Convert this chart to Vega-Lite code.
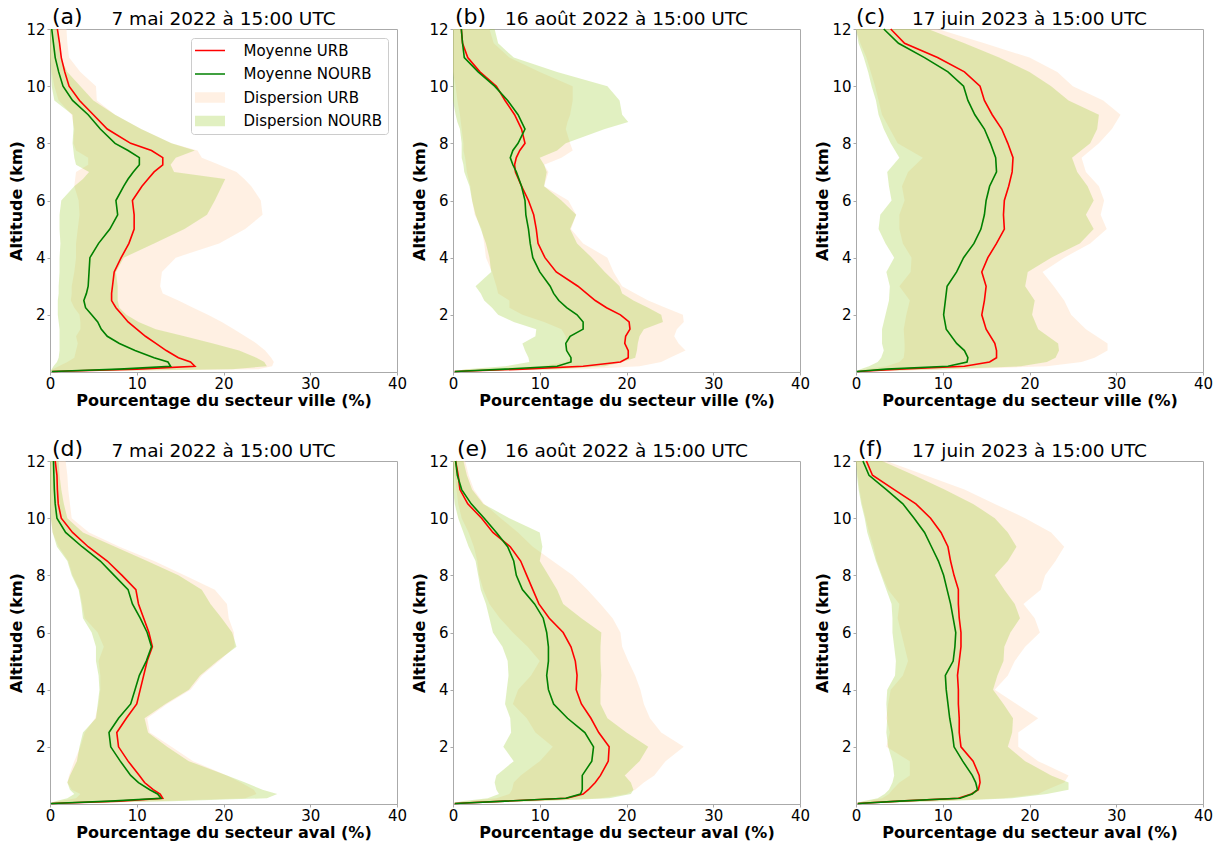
{
"$schema": "https://vega.github.io/schema/vega-lite/v6.json",
"background": "white",
"padding": {"left": 8, "top": 5, "right": 5, "bottom": 2},
"columns": 3,
"spacing": {"row": 28, "column": 3},
"resolve": {"scale": {"color": "independent"}, "legend": {"color": "independent"}},
"config": {
  "font": "DejaVu Sans",
  "view": {"stroke": "#aaaaaa", "strokeWidth": 1},
  "axis": {"grid": false, "domainColor": "#aaaaaa", "tickColor": "#aaaaaa", "tickSize": 3, "labelFont": "DejaVu Sans", "labelFontSize": 15, "labelColor": "#000000", "titleFont": "DejaVu Sans", "titleFontSize": 16, "titleFontWeight": "bold", "titleColor": "#000000", "labelFlush": false, "labelOverlap": false},
  "axisX": {"tickCount": 5, "labelPadding": 1, "titlePadding": 1},
  "axisY": {"labelPadding": 2, "titlePadding": 1}
},
"datasets": {
"labels": [
 {"p": "a", "tag": "(a)", "date": "7 mai 2022 à 15:00 UTC"},
 {"p": "b", "tag": "(b)", "date": "16 août 2022 à 15:00 UTC"},
 {"p": "c", "tag": "(c)", "date": "17 juin 2023 à 15:00 UTC"},
 {"p": "d", "tag": "(d)", "date": "7 mai 2022 à 15:00 UTC"},
 {"p": "e", "tag": "(e)", "date": "16 août 2022 à 15:00 UTC"},
 {"p": "f", "tag": "(f)", "date": "17 juin 2023 à 15:00 UTC"}
],
"prof": [
 {"p":"a","alt":0.02,"urb":0.3,"nourb":0.2,"ulo":0,"uhi":1.0,"nlo":0,"nhi":0.5},
 {"p":"a","alt":0.1,"urb":10.0,"nourb":8.0,"ulo":0.3,"uhi":24.0,"nlo":0.2,"nhi":21.0},
 {"p":"a","alt":0.2,"urb":16.7,"nourb":13.9,"ulo":1.0,"uhi":25.6,"nlo":0.4,"nhi":25.0},
 {"p":"a","alt":0.35,"urb":16.2,"nourb":13.6,"ulo":2.0,"uhi":25.8,"nlo":0.8,"nhi":24.7},
 {"p":"a","alt":0.5,"urb":14.8,"nourb":12.0,"ulo":2.8,"uhi":25.5,"nlo":1.0,"nhi":23.8},
 {"p":"a","alt":0.75,"urb":13.4,"nourb":9.8,"ulo":3.0,"uhi":24.8,"nlo":1.1,"nhi":21.8},
 {"p":"a","alt":1,"urb":12.2,"nourb":8.0,"ulo":3.2,"uhi":23.8,"nlo":1.1,"nhi":18.8},
 {"p":"a","alt":1.25,"urb":11.0,"nourb":6.6,"ulo":3.0,"uhi":22.5,"nlo":1.1,"nhi":15.5},
 {"p":"a","alt":1.5,"urb":10.0,"nourb":5.9,"ulo":3.5,"uhi":21.2,"nlo":1.1,"nhi":12.2},
 {"p":"a","alt":1.75,"urb":9.0,"nourb":5.5,"ulo":3.5,"uhi":19.8,"nlo":1.0,"nhi":10.2},
 {"p":"a","alt":2,"urb":8.3,"nourb":4.8,"ulo":3.4,"uhi":18.2,"nlo":0.9,"nhi":8.8},
 {"p":"a","alt":2.25,"urb":7.6,"nourb":4.1,"ulo":2.8,"uhi":16.5,"nlo":0.9,"nhi":8.0},
 {"p":"a","alt":2.5,"urb":7.1,"nourb":3.9,"ulo":2.4,"uhi":14.8,"nlo":0.9,"nhi":7.8},
 {"p":"a","alt":2.75,"urb":7.1,"nourb":4.2,"ulo":2.5,"uhi":13.0,"nlo":1.0,"nhi":7.8},
 {"p":"a","alt":3,"urb":7.2,"nourb":4.4,"ulo":2.5,"uhi":12.7,"nlo":1.0,"nhi":7.8},
 {"p":"a","alt":3.5,"urb":7.4,"nourb":4.5,"ulo":2.8,"uhi":12.9,"nlo":1.1,"nhi":7.6},
 {"p":"a","alt":4,"urb":8.2,"nourb":4.6,"ulo":3.0,"uhi":14.5,"nlo":1.1,"nhi":8.5},
 {"p":"a","alt":4.5,"urb":9.1,"nourb":5.6,"ulo":3.0,"uhi":19.5,"nlo":1.2,"nhi":12.0},
 {"p":"a","alt":5,"urb":9.7,"nourb":6.9,"ulo":3.2,"uhi":22.5,"nlo":1.1,"nhi":15.5},
 {"p":"a","alt":5.5,"urb":9.7,"nourb":7.8,"ulo":3.4,"uhi":24.5,"nlo":1.1,"nhi":18.1},
 {"p":"a","alt":6,"urb":9.5,"nourb":7.6,"ulo":3.3,"uhi":24.3,"nlo":1.3,"nhi":19.0},
 {"p":"a","alt":6.5,"urb":10.6,"nourb":8.5,"ulo":2.8,"uhi":23.2,"nlo":2.8,"nhi":19.8},
 {"p":"a","alt":6.75,"urb":11.3,"nourb":9.0,"ulo":2.9,"uhi":22.4,"nlo":3.8,"nhi":20.2},
 {"p":"a","alt":7,"urb":12.0,"nourb":9.6,"ulo":3.0,"uhi":21.5,"nlo":4.5,"nhi":14.3},
 {"p":"a","alt":7.25,"urb":13.0,"nourb":10.3,"ulo":4.4,"uhi":19.5,"nlo":3.0,"nhi":13.9},
 {"p":"a","alt":7.5,"urb":13.0,"nourb":10.3,"ulo":4.4,"uhi":17.5,"nlo":2.8,"nhi":14.5},
 {"p":"a","alt":7.75,"urb":11.7,"nourb":9.0,"ulo":3.0,"uhi":17.0,"nlo":2.7,"nhi":16.7},
 {"p":"a","alt":8,"urb":9.3,"nourb":7.5,"ulo":2.7,"uhi":14.0,"nlo":2.6,"nhi":14.0},
 {"p":"a","alt":8.5,"urb":6.6,"nourb":5.8,"ulo":2.8,"uhi":10.5,"nlo":2.7,"nhi":10.5},
 {"p":"a","alt":9,"urb":5.0,"nourb":4.4,"ulo":2.5,"uhi":7.5,"nlo":2.6,"nhi":7.5},
 {"p":"a","alt":9.5,"urb":3.4,"nourb":2.6,"ulo":1.0,"uhi":5.4,"nlo":0.5,"nhi":5.0},
 {"p":"a","alt":10,"urb":2.2,"nourb":1.5,"ulo":0.5,"uhi":5.3,"nlo":0.2,"nhi":3.5},
 {"p":"a","alt":10.5,"urb":1.7,"nourb":1.0,"ulo":0.2,"uhi":3.5,"nlo":0.1,"nhi":2.0},
 {"p":"a","alt":11,"urb":1.3,"nourb":0.6,"ulo":0,"uhi":2.2,"nlo":0,"nhi":1.2},
 {"p":"a","alt":11.5,"urb":1.1,"nourb":0.4,"ulo":0,"uhi":2.0,"nlo":0,"nhi":1.0},
 {"p":"a","alt":12,"urb":0.85,"nourb":0.2,"ulo":0,"uhi":1.9,"nlo":0,"nhi":0.8},

 {"p":"b","alt":0.02,"urb":0.2,"nourb":0.2,"ulo":0,"uhi":0.5,"nlo":0,"nhi":0.3},
 {"p":"b","alt":0.1,"urb":8.0,"nourb":6.0,"ulo":1.5,"uhi":15.0,"nlo":1.5,"nhi":12.0},
 {"p":"b","alt":0.2,"urb":15.0,"nourb":12.0,"ulo":10.0,"uhi":21.5,"nlo":6.0,"nhi":17.5},
 {"p":"b","alt":0.35,"urb":19.3,"nourb":13.6,"ulo":13.0,"uhi":24.0,"nlo":8.8,"nhi":19.5},
 {"p":"b","alt":0.5,"urb":20.2,"nourb":13.6,"ulo":13.5,"uhi":25.0,"nlo":8.7,"nhi":21.0},
 {"p":"b","alt":0.75,"urb":20.2,"nourb":13.1,"ulo":13.0,"uhi":26.8,"nlo":8.3,"nhi":21.2},
 {"p":"b","alt":1,"urb":19.8,"nourb":13.0,"ulo":13.0,"uhi":26.0,"nlo":8.0,"nhi":21.3},
 {"p":"b","alt":1.25,"urb":19.9,"nourb":13.5,"ulo":13.0,"uhi":25.5,"nlo":9.5,"nhi":21.5},
 {"p":"b","alt":1.5,"urb":20.4,"nourb":15.0,"ulo":12.5,"uhi":25.8,"nlo":9.6,"nhi":22.0},
 {"p":"b","alt":1.75,"urb":20.3,"nourb":15.0,"ulo":10.5,"uhi":26.6,"nlo":7.0,"nhi":24.2},
 {"p":"b","alt":2,"urb":19.3,"nourb":14.3,"ulo":8.0,"uhi":26.5,"nlo":5.2,"nhi":24.0},
 {"p":"b","alt":2.25,"urb":17.7,"nourb":13.1,"ulo":6.5,"uhi":24.5,"nlo":4.5,"nhi":22.5},
 {"p":"b","alt":2.5,"urb":16.4,"nourb":12.2,"ulo":6.5,"uhi":22.5,"nlo":3.6,"nhi":20.8},
 {"p":"b","alt":2.75,"urb":15.4,"nourb":11.6,"ulo":5.2,"uhi":21.0,"nlo":3.2,"nhi":19.5},
 {"p":"b","alt":3,"urb":14.4,"nourb":11.2,"ulo":5.0,"uhi":19.5,"nlo":2.6,"nhi":19.2},
 {"p":"b","alt":3.5,"urb":11.9,"nourb":10.0,"ulo":4.5,"uhi":18.5,"nlo":4.4,"nhi":17.5},
 {"p":"b","alt":4,"urb":10.6,"nourb":9.2,"ulo":3.8,"uhi":17.8,"nlo":4.2,"nhi":16.0},
 {"p":"b","alt":4.5,"urb":9.8,"nourb":8.9,"ulo":3.6,"uhi":15.0,"nlo":3.8,"nhi":14.3},
 {"p":"b","alt":5,"urb":9.6,"nourb":8.7,"ulo":3.3,"uhi":13.6,"nlo":3.2,"nhi":13.5},
 {"p":"b","alt":5.5,"urb":9.3,"nourb":8.4,"ulo":2.5,"uhi":14.2,"nlo":2.6,"nhi":14.2},
 {"p":"b","alt":6,"urb":8.7,"nourb":8.3,"ulo":2.2,"uhi":13.3,"nlo":2.2,"nhi":12.5},
 {"p":"b","alt":6.5,"urb":7.9,"nourb":7.9,"ulo":2.0,"uhi":10.5,"nlo":1.9,"nhi":10.5},
 {"p":"b","alt":7,"urb":7.2,"nourb":7.3,"ulo":1.6,"uhi":11.0,"nlo":1.3,"nhi":10.8},
 {"p":"b","alt":7.25,"urb":7.1,"nourb":6.9,"ulo":1.5,"uhi":10.5,"nlo":1.2,"nhi":10.5},
 {"p":"b","alt":7.5,"urb":7.3,"nourb":6.6,"ulo":1.4,"uhi":12.5,"nlo":1.0,"nhi":10.0},
 {"p":"b","alt":7.75,"urb":7.7,"nourb":6.9,"ulo":1.2,"uhi":13.8,"nlo":1.0,"nhi":12.0},
 {"p":"b","alt":8,"urb":8.3,"nourb":7.5,"ulo":1.2,"uhi":13.5,"nlo":1.0,"nhi":13.0},
 {"p":"b","alt":8.5,"urb":7.9,"nourb":8.3,"ulo":1.0,"uhi":13.0,"nlo":0.8,"nhi":17.5},
 {"p":"b","alt":8.75,"urb":7.5,"nourb":7.9,"ulo":0.9,"uhi":13.2,"nlo":0.5,"nhi":20.2},
 {"p":"b","alt":9,"urb":7.1,"nourb":7.5,"ulo":0.8,"uhi":13.5,"nlo":0.3,"nhi":19.5},
 {"p":"b","alt":9.5,"urb":6.0,"nourb":6.3,"ulo":0.5,"uhi":13.8,"nlo":0,"nhi":19.2},
 {"p":"b","alt":10,"urb":5.0,"nourb":4.8,"ulo":0.3,"uhi":13.8,"nlo":0,"nhi":17.8},
 {"p":"b","alt":10.5,"urb":3.1,"nourb":2.9,"ulo":0,"uhi":10.0,"nlo":0,"nhi":12.0},
 {"p":"b","alt":11,"urb":1.7,"nourb":1.3,"ulo":0,"uhi":6.5,"nlo":0,"nhi":7.0},
 {"p":"b","alt":11.5,"urb":1.1,"nourb":1.1,"ulo":0,"uhi":4.7,"nlo":0,"nhi":5.2},
 {"p":"b","alt":12,"urb":0.96,"nourb":0.96,"ulo":0,"uhi":4.2,"nlo":0,"nhi":4.8},

 {"p":"c","alt":0.02,"urb":0.2,"nourb":0.1,"ulo":0,"uhi":0.5,"nlo":0,"nhi":0.3},
 {"p":"c","alt":0.1,"urb":5.0,"nourb":3.5,"ulo":1.0,"uhi":12.0,"nlo":0.5,"nhi":10.0},
 {"p":"c","alt":0.2,"urb":12.5,"nourb":10.6,"ulo":3.5,"uhi":22.0,"nlo":1.5,"nhi":19.0},
 {"p":"c","alt":0.35,"urb":15.4,"nourb":12.8,"ulo":5.0,"uhi":26.0,"nlo":2.5,"nhi":22.0},
 {"p":"c","alt":0.5,"urb":16.2,"nourb":12.9,"ulo":5.5,"uhi":27.5,"nlo":2.9,"nhi":23.0},
 {"p":"c","alt":0.75,"urb":16.2,"nourb":12.5,"ulo":5.6,"uhi":29.0,"nlo":3.2,"nhi":23.4},
 {"p":"c","alt":1,"urb":16.0,"nourb":11.6,"ulo":5.6,"uhi":29.0,"nlo":3.0,"nhi":23.3},
 {"p":"c","alt":1.5,"urb":15.0,"nourb":10.4,"ulo":5.5,"uhi":26.5,"nlo":3.0,"nhi":21.0},
 {"p":"c","alt":2,"urb":14.5,"nourb":10.1,"ulo":5.8,"uhi":24.8,"nlo":3.4,"nhi":20.3},
 {"p":"c","alt":2.5,"urb":14.8,"nourb":10.3,"ulo":6.2,"uhi":24.0,"nlo":3.8,"nhi":20.6},
 {"p":"c","alt":3,"urb":15.0,"nourb":10.5,"ulo":5.0,"uhi":22.8,"nlo":3.9,"nhi":19.5},
 {"p":"c","alt":3.5,"urb":14.5,"nourb":11.6,"ulo":6.3,"uhi":21.5,"nlo":3.5,"nhi":19.8},
 {"p":"c","alt":4,"urb":15.2,"nourb":12.4,"ulo":6.4,"uhi":24.0,"nlo":4.4,"nhi":22.5},
 {"p":"c","alt":4.5,"urb":16.2,"nourb":13.6,"ulo":5.4,"uhi":27.0,"nlo":3.4,"nhi":25.8},
 {"p":"c","alt":5,"urb":17.1,"nourb":14.4,"ulo":5.0,"uhi":28.9,"nlo":2.6,"nhi":27.4},
 {"p":"c","alt":5.5,"urb":17.0,"nourb":14.8,"ulo":5.0,"uhi":28.2,"nlo":2.8,"nhi":26.5},
 {"p":"c","alt":6,"urb":17.1,"nourb":15.0,"ulo":5.6,"uhi":28.6,"nlo":4.1,"nhi":27.4},
 {"p":"c","alt":6.5,"urb":17.6,"nourb":15.4,"ulo":5.3,"uhi":28.0,"nlo":3.8,"nhi":26.7},
 {"p":"c","alt":7,"urb":18.0,"nourb":16.2,"ulo":6.0,"uhi":26.5,"nlo":3.6,"nhi":25.5},
 {"p":"c","alt":7.5,"urb":18.1,"nourb":16.1,"ulo":7.7,"uhi":26.0,"nlo":5.0,"nhi":24.9},
 {"p":"c","alt":8,"urb":17.5,"nourb":15.5,"ulo":4.8,"uhi":28.0,"nlo":4.0,"nhi":27.0},
 {"p":"c","alt":8.5,"urb":16.8,"nourb":14.8,"ulo":3.9,"uhi":29.5,"nlo":3.2,"nhi":27.8},
 {"p":"c","alt":9,"urb":15.7,"nourb":13.7,"ulo":3.0,"uhi":30.5,"nlo":2.6,"nhi":28.0},
 {"p":"c","alt":9.5,"urb":14.8,"nourb":12.9,"ulo":2.6,"uhi":28.5,"nlo":2.3,"nhi":24.5},
 {"p":"c","alt":10,"urb":14.3,"nourb":12.4,"ulo":2.2,"uhi":25.0,"nlo":1.8,"nhi":22.5},
 {"p":"c","alt":10.5,"urb":12.5,"nourb":10.6,"ulo":1.7,"uhi":23.2,"nlo":1.4,"nhi":20.0},
 {"p":"c","alt":11,"urb":9.4,"nourb":7.9,"ulo":1.2,"uhi":20.0,"nlo":0.9,"nhi":16.5},
 {"p":"c","alt":11.5,"urb":5.6,"nourb":4.9,"ulo":0.5,"uhi":14.8,"nlo":0.3,"nhi":12.5},
 {"p":"c","alt":12,"urb":4.0,"nourb":3.2,"ulo":0,"uhi":9.4,"nlo":0,"nhi":8.3},

 {"p":"d","alt":0.02,"urb":0.2,"nourb":0.1,"ulo":0,"uhi":0.5,"nlo":0,"nhi":0.5},
 {"p":"d","alt":0.1,"urb":8.0,"nourb":7.0,"ulo":1.0,"uhi":12.0,"nlo":0.6,"nhi":14.0},
 {"p":"d","alt":0.2,"urb":13.0,"nourb":12.8,"ulo":3.0,"uhi":22.5,"nlo":2.0,"nhi":25.0},
 {"p":"d","alt":0.35,"urb":12.7,"nourb":12.4,"ulo":3.5,"uhi":23.8,"nlo":2.8,"nhi":26.2},
 {"p":"d","alt":0.5,"urb":11.9,"nourb":11.5,"ulo":2.5,"uhi":23.5,"nlo":2.3,"nhi":24.5},
 {"p":"d","alt":0.75,"urb":10.9,"nourb":10.2,"ulo":2.0,"uhi":22.0,"nlo":2.0,"nhi":22.5},
 {"p":"d","alt":1,"urb":10.3,"nourb":9.3,"ulo":2.2,"uhi":20.4,"nlo":2.3,"nhi":20.4},
 {"p":"d","alt":1.5,"urb":9.0,"nourb":8.1,"ulo":2.8,"uhi":16.5,"nlo":3.1,"nhi":16.0},
 {"p":"d","alt":2,"urb":7.9,"nourb":7.0,"ulo":3.5,"uhi":14.0,"nlo":3.4,"nhi":13.5},
 {"p":"d","alt":2.5,"urb":7.7,"nourb":6.8,"ulo":4.0,"uhi":11.5,"nlo":3.8,"nhi":11.3},
 {"p":"d","alt":3,"urb":8.8,"nourb":7.9,"ulo":5.2,"uhi":11.2,"nlo":5.3,"nhi":10.9},
 {"p":"d","alt":3.5,"urb":10.0,"nourb":9.3,"ulo":5.6,"uhi":13.5,"nlo":5.5,"nhi":13.3},
 {"p":"d","alt":4,"urb":10.4,"nourb":9.8,"ulo":5.8,"uhi":16.2,"nlo":5.7,"nhi":16.0},
 {"p":"d","alt":4.5,"urb":10.8,"nourb":10.3,"ulo":5.8,"uhi":17.5,"nlo":5.6,"nhi":17.3},
 {"p":"d","alt":5,"urb":11.2,"nourb":11.1,"ulo":5.6,"uhi":19.5,"nlo":5.3,"nhi":19.3},
 {"p":"d","alt":5.5,"urb":11.8,"nourb":11.7,"ulo":6.2,"uhi":21.3,"nlo":5.3,"nhi":21.5},
 {"p":"d","alt":6,"urb":11.4,"nourb":11.2,"ulo":5.5,"uhi":21.2,"nlo":4.8,"nhi":21.0},
 {"p":"d","alt":6.5,"urb":10.8,"nourb":10.4,"ulo":4.0,"uhi":20.6,"nlo":3.8,"nhi":19.8},
 {"p":"d","alt":7,"urb":10.2,"nourb":9.5,"ulo":3.7,"uhi":20.4,"nlo":3.6,"nhi":18.5},
 {"p":"d","alt":7.5,"urb":9.9,"nourb":9.0,"ulo":3.4,"uhi":19.0,"nlo":3.3,"nhi":17.5},
 {"p":"d","alt":8,"urb":8.3,"nourb":7.4,"ulo":2.6,"uhi":15.5,"nlo":2.5,"nhi":14.8},
 {"p":"d","alt":8.5,"urb":6.6,"nourb":5.8,"ulo":2.1,"uhi":12.0,"nlo":2.0,"nhi":11.2},
 {"p":"d","alt":9,"urb":4.4,"nourb":3.7,"ulo":1.0,"uhi":8.0,"nlo":0.8,"nhi":7.5},
 {"p":"d","alt":9.5,"urb":2.6,"nourb":1.8,"ulo":0.3,"uhi":4.5,"nlo":0.3,"nhi":3.8},
 {"p":"d","alt":10,"urb":1.3,"nourb":0.8,"ulo":0.1,"uhi":2.5,"nlo":0.1,"nhi":2.0},
 {"p":"d","alt":10.5,"urb":0.95,"nourb":0.6,"ulo":0,"uhi":2.3,"nlo":0,"nhi":1.6},
 {"p":"d","alt":11,"urb":0.85,"nourb":0.5,"ulo":0,"uhi":2.1,"nlo":0,"nhi":1.3},
 {"p":"d","alt":11.5,"urb":0.8,"nourb":0.45,"ulo":0,"uhi":2.0,"nlo":0,"nhi":1.1},
 {"p":"d","alt":12,"urb":0.6,"nourb":0.4,"ulo":0,"uhi":1.8,"nlo":0,"nhi":1.0},

 {"p":"e","alt":0.02,"urb":0.2,"nourb":0.2,"ulo":0,"uhi":0.4,"nlo":0,"nhi":0.4},
 {"p":"e","alt":0.1,"urb":6.0,"nourb":6.0,"ulo":1.5,"uhi":9.0,"nlo":1.0,"nhi":10.0},
 {"p":"e","alt":0.2,"urb":13.1,"nourb":13.0,"ulo":5.0,"uhi":17.0,"nlo":4.0,"nhi":18.0},
 {"p":"e","alt":0.35,"urb":15.0,"nourb":14.7,"ulo":6.5,"uhi":20.0,"nlo":5.3,"nhi":20.5},
 {"p":"e","alt":0.5,"urb":15.6,"nourb":14.9,"ulo":6.8,"uhi":21.0,"nlo":5.0,"nhi":20.8},
 {"p":"e","alt":0.75,"urb":16.4,"nourb":14.9,"ulo":7.0,"uhi":22.0,"nlo":4.8,"nhi":20.5},
 {"p":"e","alt":1,"urb":17.0,"nourb":14.9,"ulo":7.8,"uhi":23.2,"nlo":5.0,"nhi":19.8},
 {"p":"e","alt":1.5,"urb":17.9,"nourb":16.0,"ulo":10.0,"uhi":24.5,"nlo":7.0,"nhi":21.5},
 {"p":"e","alt":2,"urb":18.0,"nourb":16.2,"ulo":11.5,"uhi":26.6,"nlo":5.8,"nhi":22.5},
 {"p":"e","alt":2.5,"urb":16.8,"nourb":15.2,"ulo":9.5,"uhi":24.0,"nlo":6.7,"nhi":20.0},
 {"p":"e","alt":3,"urb":15.9,"nourb":13.2,"ulo":8.5,"uhi":22.7,"nlo":6.6,"nhi":17.8},
 {"p":"e","alt":3.5,"urb":14.8,"nourb":11.6,"ulo":6.9,"uhi":22.0,"nlo":6.0,"nhi":17.0},
 {"p":"e","alt":4,"urb":14.2,"nourb":11.0,"ulo":7.5,"uhi":21.6,"nlo":6.2,"nhi":17.0},
 {"p":"e","alt":4.5,"urb":14.3,"nourb":10.8,"ulo":9.0,"uhi":21.0,"nlo":6.4,"nhi":17.1},
 {"p":"e","alt":5,"urb":14.1,"nourb":11.0,"ulo":10.0,"uhi":20.2,"nlo":6.3,"nhi":17.0},
 {"p":"e","alt":5.5,"urb":13.6,"nourb":11.0,"ulo":8.6,"uhi":19.5,"nlo":5.7,"nhi":17.0},
 {"p":"e","alt":6,"urb":12.7,"nourb":10.8,"ulo":6.9,"uhi":19.3,"nlo":4.6,"nhi":17.1},
 {"p":"e","alt":6.5,"urb":11.1,"nourb":10.4,"ulo":5.4,"uhi":18.4,"nlo":4.2,"nhi":14.8},
 {"p":"e","alt":7,"urb":9.9,"nourb":9.4,"ulo":4.2,"uhi":17.0,"nlo":3.8,"nhi":12.7},
 {"p":"e","alt":7.5,"urb":9.2,"nourb":8.0,"ulo":3.5,"uhi":15.5,"nlo":3.2,"nhi":12.0},
 {"p":"e","alt":8,"urb":8.5,"nourb":7.3,"ulo":3.0,"uhi":13.8,"nlo":2.9,"nhi":11.0},
 {"p":"e","alt":8.5,"urb":7.8,"nourb":7.0,"ulo":2.8,"uhi":11.5,"nlo":2.6,"nhi":10.0},
 {"p":"e","alt":9,"urb":6.6,"nourb":6.3,"ulo":2.4,"uhi":9.2,"nlo":1.8,"nhi":10.3},
 {"p":"e","alt":9.5,"urb":4.6,"nourb":5.0,"ulo":1.8,"uhi":7.5,"nlo":1.2,"nhi":10.0},
 {"p":"e","alt":10,"urb":3.3,"nourb":3.6,"ulo":1.0,"uhi":5.5,"nlo":0.6,"nhi":6.5},
 {"p":"e","alt":10.5,"urb":1.7,"nourb":2.1,"ulo":0.6,"uhi":3.6,"nlo":0.2,"nhi":3.5},
 {"p":"e","alt":11,"urb":0.8,"nourb":1.0,"ulo":0.4,"uhi":2.4,"nlo":0,"nhi":2.2},
 {"p":"e","alt":11.5,"urb":0.6,"nourb":0.5,"ulo":0.2,"uhi":1.8,"nlo":0,"nhi":1.6},
 {"p":"e","alt":12,"urb":0.3,"nourb":0.3,"ulo":0,"uhi":1.4,"nlo":0,"nhi":1.2},

 {"p":"f","alt":0.02,"urb":0.2,"nourb":0.2,"ulo":0,"uhi":0.4,"nlo":0,"nhi":0.4},
 {"p":"f","alt":0.1,"urb":5.0,"nourb":5.0,"ulo":1.0,"uhi":9.0,"nlo":0.8,"nhi":10.0},
 {"p":"f","alt":0.2,"urb":11.8,"nourb":12.0,"ulo":3.0,"uhi":17.0,"nlo":2.5,"nhi":18.0},
 {"p":"f","alt":0.35,"urb":13.3,"nourb":13.4,"ulo":3.8,"uhi":21.0,"nlo":3.3,"nhi":22.0},
 {"p":"f","alt":0.5,"urb":14.1,"nourb":14.0,"ulo":4.2,"uhi":22.0,"nlo":3.8,"nhi":24.5},
 {"p":"f","alt":0.75,"urb":14.3,"nourb":13.8,"ulo":5.0,"uhi":24.0,"nlo":4.2,"nhi":24.5},
 {"p":"f","alt":1,"urb":14.2,"nourb":13.4,"ulo":6.2,"uhi":24.5,"nlo":4.4,"nhi":22.5},
 {"p":"f","alt":1.5,"urb":13.5,"nourb":12.3,"ulo":6.2,"uhi":21.0,"nlo":4.2,"nhi":19.5},
 {"p":"f","alt":2,"urb":12.1,"nourb":11.3,"ulo":3.5,"uhi":18.7,"nlo":3.7,"nhi":17.5},
 {"p":"f","alt":2.5,"urb":11.9,"nourb":11.1,"ulo":3.9,"uhi":18.7,"nlo":3.5,"nhi":18.0},
 {"p":"f","alt":3,"urb":11.9,"nourb":10.8,"ulo":3.5,"uhi":21.0,"nlo":3.6,"nhi":18.1},
 {"p":"f","alt":3.5,"urb":11.8,"nourb":10.6,"ulo":3.7,"uhi":18.5,"nlo":3.5,"nhi":17.0},
 {"p":"f","alt":4,"urb":11.8,"nourb":10.4,"ulo":4.0,"uhi":16.0,"nlo":3.6,"nhi":15.8},
 {"p":"f","alt":4.5,"urb":11.7,"nourb":10.3,"ulo":5.4,"uhi":17.5,"nlo":4.5,"nhi":16.3},
 {"p":"f","alt":5,"urb":11.9,"nourb":11.2,"ulo":6.0,"uhi":18.3,"nlo":4.6,"nhi":17.0},
 {"p":"f","alt":5.5,"urb":12.1,"nourb":11.4,"ulo":5.6,"uhi":19.5,"nlo":4.4,"nhi":17.1},
 {"p":"f","alt":6,"urb":12.1,"nourb":11.5,"ulo":5.2,"uhi":21.2,"nlo":4.2,"nhi":17.8},
 {"p":"f","alt":6.5,"urb":11.9,"nourb":11.2,"ulo":4.8,"uhi":20.6,"nlo":4.2,"nhi":18.9},
 {"p":"f","alt":7,"urb":11.8,"nourb":10.9,"ulo":5.0,"uhi":19.3,"nlo":4.1,"nhi":18.3},
 {"p":"f","alt":7.5,"urb":11.8,"nourb":10.5,"ulo":3.7,"uhi":21.3,"nlo":3.5,"nhi":17.1},
 {"p":"f","alt":8,"urb":11.3,"nourb":10.1,"ulo":3.0,"uhi":21.8,"nlo":2.9,"nhi":16.0},
 {"p":"f","alt":8.5,"urb":10.9,"nourb":9.5,"ulo":2.4,"uhi":23.0,"nlo":2.3,"nhi":17.5},
 {"p":"f","alt":9,"urb":10.6,"nourb":8.7,"ulo":2.0,"uhi":24.0,"nlo":1.8,"nhi":18.5},
 {"p":"f","alt":9.5,"urb":9.8,"nourb":7.9,"ulo":1.5,"uhi":22.5,"nlo":1.3,"nhi":17.5},
 {"p":"f","alt":10,"urb":8.6,"nourb":6.7,"ulo":1.1,"uhi":19.5,"nlo":1.0,"nhi":16.0},
 {"p":"f","alt":10.5,"urb":6.9,"nourb":5.4,"ulo":0.7,"uhi":16.0,"nlo":0.6,"nhi":13.5},
 {"p":"f","alt":11,"urb":4.4,"nourb":3.5,"ulo":0.4,"uhi":12.5,"nlo":0.3,"nhi":10.2},
 {"p":"f","alt":11.5,"urb":1.9,"nourb":1.5,"ulo":0.2,"uhi":8.0,"nlo":0.1,"nhi":6.7},
 {"p":"f","alt":12,"urb":1.2,"nourb":0.8,"ulo":0,"uhi":3.5,"nlo":0,"nhi":3.0}
]
},
"concat": [
 {
  "width": 347, "height": 343,
  "data": {"name": "prof"},
  "transform": [{"filter": "datum.p == 'a'"}],
  "layer": [
   {"mark": {"type": "area", "orient": "horizontal"},
    "encoding": {"y": {"field": "alt", "type": "quantitative", "scale": {"domain": [0, 12]}, "axis": {"values": [2, 4, 6, 8, 10, 12]}, "title": "Altitude (km)"},
     "x": {"field": "ulo", "type": "quantitative", "scale": {"domain": [0, 40]}, "title": "Pourcentage du secteur ville (%)"}, "x2": {"field": "uhi"},
     "color": {"datum": "Dispersion URB", "type": "nominal",
      "scale": {"domain": ["Moyenne URB", "Moyenne NOURB", "Dispersion URB", "Dispersion NOURB"], "range": ["#ff0000", "#008000", "rgba(255,218,185,0.4)", "rgba(154,205,50,0.3)"]},
      "legend": {"title": null, "orient": "top-right", "offset": 9, "padding": 5, "rowPadding": 7.5, "labelFontSize": 15, "labelFont": "DejaVu Sans", "labelColor": "#000000", "labelLimit": 300,
       "symbolType": {"expr": "indexof(datum.value, 'Moyenne') == 0 ? 'M-2,-0.1H2V0.1H-2Z' : 'M-2,-0.7H2V0.7H-2Z'"},
       "symbolSize": 225, "symbolOffset": 6.5, "labelOffset": 26, "symbolOpacity": 1, "symbolStrokeWidth": 0, "fillColor": "white", "strokeColor": "#cccccc", "cornerRadius": 3}}}},
   {"mark": {"type": "area", "orient": "horizontal"},
    "encoding": {"y": {"field": "alt", "type": "quantitative", "scale": {"domain": [0, 12]}, "axis": {"values": [2, 4, 6, 8, 10, 12]}, "title": "Altitude (km)"},
     "x": {"field": "nlo", "type": "quantitative", "scale": {"domain": [0, 40]}, "title": "Pourcentage du secteur ville (%)"}, "x2": {"field": "nhi"},
     "color": {"datum": "Dispersion NOURB", "type": "nominal"}}},
   {"mark": {"type": "line", "strokeWidth": 1.6},
    "encoding": {"y": {"field": "alt", "type": "quantitative", "scale": {"domain": [0, 12]}, "axis": {"values": [2, 4, 6, 8, 10, 12]}, "title": "Altitude (km)"},
     "x": {"field": "urb", "type": "quantitative", "scale": {"domain": [0, 40]}, "title": "Pourcentage du secteur ville (%)"}, "order": {"field": "alt", "type": "quantitative"},
     "color": {"datum": "Moyenne URB", "type": "nominal"}}},
   {"mark": {"type": "line", "strokeWidth": 1.6},
    "encoding": {"y": {"field": "alt", "type": "quantitative", "scale": {"domain": [0, 12]}, "axis": {"values": [2, 4, 6, 8, 10, 12]}, "title": "Altitude (km)"},
     "x": {"field": "nourb", "type": "quantitative", "scale": {"domain": [0, 40]}, "title": "Pourcentage du secteur ville (%)"}, "order": {"field": "alt", "type": "quantitative"},
     "color": {"datum": "Moyenne NOURB", "type": "nominal"}}},
   {"data": {"name": "labels"}, "transform": [{"filter": "datum.p == 'a'"}],
    "mark": {"type": "text", "align": "left", "baseline": "alphabetic", "fontSize": 22, "dx": 2, "dy": -5, "color": "#000000"},
    "encoding": {"x": {"datum": 0, "type": "quantitative"}, "y": {"datum": 12, "type": "quantitative"}, "text": {"field": "tag", "type": "nominal"}}},
   {"data": {"name": "labels"}, "transform": [{"filter": "datum.p == 'a'"}],
    "mark": {"type": "text", "align": "center", "baseline": "alphabetic", "fontSize": 18.5, "dy": -4, "color": "#000000"},
    "encoding": {"x": {"datum": 20, "type": "quantitative"}, "y": {"datum": 12, "type": "quantitative"}, "text": {"field": "date", "type": "nominal"}}}
  ]
 },
 {
  "width": 347, "height": 343,
  "data": {"name": "prof"},
  "transform": [{"filter": "datum.p == 'b'"}],
  "layer": [
   {"mark": {"type": "area", "orient": "horizontal", "color": "#ffdab9", "opacity": 0.4}, "encoding": {"y": {"field": "alt", "type": "quantitative", "scale": {"domain": [0, 12]}, "axis": {"values": [2, 4, 6, 8, 10, 12]}, "title": "Altitude (km)"}, "x": {"field": "ulo", "type": "quantitative", "scale": {"domain": [0, 40]}, "title": "Pourcentage du secteur ville (%)"}, "x2": {"field": "uhi"}}},
   {"mark": {"type": "area", "orient": "horizontal", "color": "#9acd32", "opacity": 0.3}, "encoding": {"y": {"field": "alt", "type": "quantitative", "scale": {"domain": [0, 12]}, "axis": {"values": [2, 4, 6, 8, 10, 12]}, "title": "Altitude (km)"}, "x": {"field": "nlo", "type": "quantitative", "scale": {"domain": [0, 40]}, "title": "Pourcentage du secteur ville (%)"}, "x2": {"field": "nhi"}}},
   {"mark": {"type": "line", "color": "#ff0000", "strokeWidth": 1.6}, "encoding": {"y": {"field": "alt", "type": "quantitative", "scale": {"domain": [0, 12]}, "axis": {"values": [2, 4, 6, 8, 10, 12]}, "title": "Altitude (km)"}, "x": {"field": "urb", "type": "quantitative", "scale": {"domain": [0, 40]}, "title": "Pourcentage du secteur ville (%)"}, "order": {"field": "alt", "type": "quantitative"}}},
   {"mark": {"type": "line", "color": "#008000", "strokeWidth": 1.6}, "encoding": {"y": {"field": "alt", "type": "quantitative", "scale": {"domain": [0, 12]}, "axis": {"values": [2, 4, 6, 8, 10, 12]}, "title": "Altitude (km)"}, "x": {"field": "nourb", "type": "quantitative", "scale": {"domain": [0, 40]}, "title": "Pourcentage du secteur ville (%)"}, "order": {"field": "alt", "type": "quantitative"}}},
   {"data": {"name": "labels"}, "transform": [{"filter": "datum.p == 'b'"}], "mark": {"type": "text", "align": "left", "baseline": "alphabetic", "fontSize": 22, "dx": 2, "dy": -5, "color": "#000000"}, "encoding": {"x": {"datum": 0, "type": "quantitative"}, "y": {"datum": 12, "type": "quantitative"}, "text": {"field": "tag", "type": "nominal"}}},
   {"data": {"name": "labels"}, "transform": [{"filter": "datum.p == 'b'"}], "mark": {"type": "text", "align": "center", "baseline": "alphabetic", "fontSize": 18.5, "dy": -4, "color": "#000000"}, "encoding": {"x": {"datum": 20, "type": "quantitative"}, "y": {"datum": 12, "type": "quantitative"}, "text": {"field": "date", "type": "nominal"}}}
  ]
 },
 {
  "width": 347, "height": 343,
  "data": {"name": "prof"},
  "transform": [{"filter": "datum.p == 'c'"}],
  "layer": [
   {"mark": {"type": "area", "orient": "horizontal", "color": "#ffdab9", "opacity": 0.4}, "encoding": {"y": {"field": "alt", "type": "quantitative", "scale": {"domain": [0, 12]}, "axis": {"values": [2, 4, 6, 8, 10, 12]}, "title": "Altitude (km)"}, "x": {"field": "ulo", "type": "quantitative", "scale": {"domain": [0, 40]}, "title": "Pourcentage du secteur ville (%)"}, "x2": {"field": "uhi"}}},
   {"mark": {"type": "area", "orient": "horizontal", "color": "#9acd32", "opacity": 0.3}, "encoding": {"y": {"field": "alt", "type": "quantitative", "scale": {"domain": [0, 12]}, "axis": {"values": [2, 4, 6, 8, 10, 12]}, "title": "Altitude (km)"}, "x": {"field": "nlo", "type": "quantitative", "scale": {"domain": [0, 40]}, "title": "Pourcentage du secteur ville (%)"}, "x2": {"field": "nhi"}}},
   {"mark": {"type": "line", "color": "#ff0000", "strokeWidth": 1.6}, "encoding": {"y": {"field": "alt", "type": "quantitative", "scale": {"domain": [0, 12]}, "axis": {"values": [2, 4, 6, 8, 10, 12]}, "title": "Altitude (km)"}, "x": {"field": "urb", "type": "quantitative", "scale": {"domain": [0, 40]}, "title": "Pourcentage du secteur ville (%)"}, "order": {"field": "alt", "type": "quantitative"}}},
   {"mark": {"type": "line", "color": "#008000", "strokeWidth": 1.6}, "encoding": {"y": {"field": "alt", "type": "quantitative", "scale": {"domain": [0, 12]}, "axis": {"values": [2, 4, 6, 8, 10, 12]}, "title": "Altitude (km)"}, "x": {"field": "nourb", "type": "quantitative", "scale": {"domain": [0, 40]}, "title": "Pourcentage du secteur ville (%)"}, "order": {"field": "alt", "type": "quantitative"}}},
   {"data": {"name": "labels"}, "transform": [{"filter": "datum.p == 'c'"}], "mark": {"type": "text", "align": "left", "baseline": "alphabetic", "fontSize": 22, "dx": 0, "dy": -5, "color": "#000000"}, "encoding": {"x": {"datum": 0, "type": "quantitative"}, "y": {"datum": 12, "type": "quantitative"}, "text": {"field": "tag", "type": "nominal"}}},
   {"data": {"name": "labels"}, "transform": [{"filter": "datum.p == 'c'"}], "mark": {"type": "text", "align": "center", "baseline": "alphabetic", "fontSize": 18.5, "dy": -4, "color": "#000000"}, "encoding": {"x": {"datum": 20, "type": "quantitative"}, "y": {"datum": 12, "type": "quantitative"}, "text": {"field": "date", "type": "nominal"}}}
  ]
 },
 {
  "width": 347, "height": 343,
  "data": {"name": "prof"},
  "transform": [{"filter": "datum.p == 'd'"}],
  "layer": [
   {"mark": {"type": "area", "orient": "horizontal", "color": "#ffdab9", "opacity": 0.4}, "encoding": {"y": {"field": "alt", "type": "quantitative", "scale": {"domain": [0, 12]}, "axis": {"values": [2, 4, 6, 8, 10, 12]}, "title": "Altitude (km)"}, "x": {"field": "ulo", "type": "quantitative", "scale": {"domain": [0, 40]}, "title": "Pourcentage du secteur aval (%)"}, "x2": {"field": "uhi"}}},
   {"mark": {"type": "area", "orient": "horizontal", "color": "#9acd32", "opacity": 0.3}, "encoding": {"y": {"field": "alt", "type": "quantitative", "scale": {"domain": [0, 12]}, "axis": {"values": [2, 4, 6, 8, 10, 12]}, "title": "Altitude (km)"}, "x": {"field": "nlo", "type": "quantitative", "scale": {"domain": [0, 40]}, "title": "Pourcentage du secteur aval (%)"}, "x2": {"field": "nhi"}}},
   {"mark": {"type": "line", "color": "#ff0000", "strokeWidth": 1.6}, "encoding": {"y": {"field": "alt", "type": "quantitative", "scale": {"domain": [0, 12]}, "axis": {"values": [2, 4, 6, 8, 10, 12]}, "title": "Altitude (km)"}, "x": {"field": "urb", "type": "quantitative", "scale": {"domain": [0, 40]}, "title": "Pourcentage du secteur aval (%)"}, "order": {"field": "alt", "type": "quantitative"}}},
   {"mark": {"type": "line", "color": "#008000", "strokeWidth": 1.6}, "encoding": {"y": {"field": "alt", "type": "quantitative", "scale": {"domain": [0, 12]}, "axis": {"values": [2, 4, 6, 8, 10, 12]}, "title": "Altitude (km)"}, "x": {"field": "nourb", "type": "quantitative", "scale": {"domain": [0, 40]}, "title": "Pourcentage du secteur aval (%)"}, "order": {"field": "alt", "type": "quantitative"}}},
   {"data": {"name": "labels"}, "transform": [{"filter": "datum.p == 'd'"}], "mark": {"type": "text", "align": "left", "baseline": "alphabetic", "fontSize": 22, "dx": 2, "dy": -5, "color": "#000000"}, "encoding": {"x": {"datum": 0, "type": "quantitative"}, "y": {"datum": 12, "type": "quantitative"}, "text": {"field": "tag", "type": "nominal"}}},
   {"data": {"name": "labels"}, "transform": [{"filter": "datum.p == 'd'"}], "mark": {"type": "text", "align": "center", "baseline": "alphabetic", "fontSize": 18.5, "dy": -4, "color": "#000000"}, "encoding": {"x": {"datum": 20, "type": "quantitative"}, "y": {"datum": 12, "type": "quantitative"}, "text": {"field": "date", "type": "nominal"}}}
  ]
 },
 {
  "width": 347, "height": 343,
  "data": {"name": "prof"},
  "transform": [{"filter": "datum.p == 'e'"}],
  "layer": [
   {"mark": {"type": "area", "orient": "horizontal", "color": "#ffdab9", "opacity": 0.4}, "encoding": {"y": {"field": "alt", "type": "quantitative", "scale": {"domain": [0, 12]}, "axis": {"values": [2, 4, 6, 8, 10, 12]}, "title": "Altitude (km)"}, "x": {"field": "ulo", "type": "quantitative", "scale": {"domain": [0, 40]}, "title": "Pourcentage du secteur aval (%)"}, "x2": {"field": "uhi"}}},
   {"mark": {"type": "area", "orient": "horizontal", "color": "#9acd32", "opacity": 0.3}, "encoding": {"y": {"field": "alt", "type": "quantitative", "scale": {"domain": [0, 12]}, "axis": {"values": [2, 4, 6, 8, 10, 12]}, "title": "Altitude (km)"}, "x": {"field": "nlo", "type": "quantitative", "scale": {"domain": [0, 40]}, "title": "Pourcentage du secteur aval (%)"}, "x2": {"field": "nhi"}}},
   {"mark": {"type": "line", "color": "#ff0000", "strokeWidth": 1.6}, "encoding": {"y": {"field": "alt", "type": "quantitative", "scale": {"domain": [0, 12]}, "axis": {"values": [2, 4, 6, 8, 10, 12]}, "title": "Altitude (km)"}, "x": {"field": "urb", "type": "quantitative", "scale": {"domain": [0, 40]}, "title": "Pourcentage du secteur aval (%)"}, "order": {"field": "alt", "type": "quantitative"}}},
   {"mark": {"type": "line", "color": "#008000", "strokeWidth": 1.6}, "encoding": {"y": {"field": "alt", "type": "quantitative", "scale": {"domain": [0, 12]}, "axis": {"values": [2, 4, 6, 8, 10, 12]}, "title": "Altitude (km)"}, "x": {"field": "nourb", "type": "quantitative", "scale": {"domain": [0, 40]}, "title": "Pourcentage du secteur aval (%)"}, "order": {"field": "alt", "type": "quantitative"}}},
   {"data": {"name": "labels"}, "transform": [{"filter": "datum.p == 'e'"}], "mark": {"type": "text", "align": "left", "baseline": "alphabetic", "fontSize": 22, "dx": 4, "dy": -5, "color": "#000000"}, "encoding": {"x": {"datum": 0, "type": "quantitative"}, "y": {"datum": 12, "type": "quantitative"}, "text": {"field": "tag", "type": "nominal"}}},
   {"data": {"name": "labels"}, "transform": [{"filter": "datum.p == 'e'"}], "mark": {"type": "text", "align": "center", "baseline": "alphabetic", "fontSize": 18.5, "dy": -4, "color": "#000000"}, "encoding": {"x": {"datum": 20, "type": "quantitative"}, "y": {"datum": 12, "type": "quantitative"}, "text": {"field": "date", "type": "nominal"}}}
  ]
 },
 {
  "width": 347, "height": 343,
  "data": {"name": "prof"},
  "transform": [{"filter": "datum.p == 'f'"}],
  "layer": [
   {"mark": {"type": "area", "orient": "horizontal", "color": "#ffdab9", "opacity": 0.4}, "encoding": {"y": {"field": "alt", "type": "quantitative", "scale": {"domain": [0, 12]}, "axis": {"values": [2, 4, 6, 8, 10, 12]}, "title": "Altitude (km)"}, "x": {"field": "ulo", "type": "quantitative", "scale": {"domain": [0, 40]}, "title": "Pourcentage du secteur aval (%)"}, "x2": {"field": "uhi"}}},
   {"mark": {"type": "area", "orient": "horizontal", "color": "#9acd32", "opacity": 0.3}, "encoding": {"y": {"field": "alt", "type": "quantitative", "scale": {"domain": [0, 12]}, "axis": {"values": [2, 4, 6, 8, 10, 12]}, "title": "Altitude (km)"}, "x": {"field": "nlo", "type": "quantitative", "scale": {"domain": [0, 40]}, "title": "Pourcentage du secteur aval (%)"}, "x2": {"field": "nhi"}}},
   {"mark": {"type": "line", "color": "#ff0000", "strokeWidth": 1.6}, "encoding": {"y": {"field": "alt", "type": "quantitative", "scale": {"domain": [0, 12]}, "axis": {"values": [2, 4, 6, 8, 10, 12]}, "title": "Altitude (km)"}, "x": {"field": "urb", "type": "quantitative", "scale": {"domain": [0, 40]}, "title": "Pourcentage du secteur aval (%)"}, "order": {"field": "alt", "type": "quantitative"}}},
   {"mark": {"type": "line", "color": "#008000", "strokeWidth": 1.6}, "encoding": {"y": {"field": "alt", "type": "quantitative", "scale": {"domain": [0, 12]}, "axis": {"values": [2, 4, 6, 8, 10, 12]}, "title": "Altitude (km)"}, "x": {"field": "nourb", "type": "quantitative", "scale": {"domain": [0, 40]}, "title": "Pourcentage du secteur aval (%)"}, "order": {"field": "alt", "type": "quantitative"}}},
   {"data": {"name": "labels"}, "transform": [{"filter": "datum.p == 'f'"}], "mark": {"type": "text", "align": "left", "baseline": "alphabetic", "fontSize": 22, "dx": 2, "dy": -5, "color": "#000000"}, "encoding": {"x": {"datum": 0, "type": "quantitative"}, "y": {"datum": 12, "type": "quantitative"}, "text": {"field": "tag", "type": "nominal"}}},
   {"data": {"name": "labels"}, "transform": [{"filter": "datum.p == 'f'"}], "mark": {"type": "text", "align": "center", "baseline": "alphabetic", "fontSize": 18.5, "dy": -4, "color": "#000000"}, "encoding": {"x": {"datum": 20, "type": "quantitative"}, "y": {"datum": 12, "type": "quantitative"}, "text": {"field": "date", "type": "nominal"}}}
  ]
 }
]
}
